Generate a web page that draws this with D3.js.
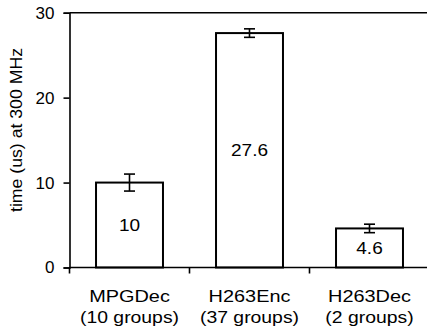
<!DOCTYPE html>
<html>
<head>
<meta charset="utf-8">
<script src="https://cdn.jsdelivr.net/npm/d3@7"></script>
<style>
  html, body { margin: 0; padding: 0; background: #fff; }
  svg { display: block; }
  text { font-family: "Liberation Sans", Arial, sans-serif; fill: #000; }
</style>
</head>
<body>
<div id="chart"></div>
<script>
const categories = ["MPGDec", "H263Enc", "H263Dec"];
const groupLabels = ["(10 groups)", "(37 groups)", "(2 groups)"];
const values = [10, 27.6, 4.6];
const valueLabels = ["10", "27.6", "4.6"];
const errors = [1.0, 0.5, 0.5];
const yTicks = [0, 10, 20, 30];
const yTitle = "time (us) at 300 MHz";

const W = 427, H = 335;
const mLeft = 69.5, mTop = 12.7, mBottom = 267.5, mRight = 429.5;

const svg = d3.select("#chart").append("svg")
  .attr("width", W).attr("height", H);

const x = d3.scaleBand().domain(categories).range([mLeft, mRight])
  .paddingInner(0.442).paddingOuter(0.221);
const y = d3.scaleLinear().domain([0, 30]).range([mBottom, mTop]);

// top border
svg.append("line")
  .attr("x1", mLeft).attr("x2", mRight + 5)
  .attr("y1", y(30)).attr("y2", y(30))
  .attr("stroke", "#000").attr("stroke-width", 1.6);

// bars
svg.selectAll("rect.bar").data(categories).join("rect")
  .attr("class", "bar")
  .attr("x", d => x(d)).attr("width", x.bandwidth())
  .attr("y", (d, i) => y(values[i]))
  .attr("height", (d, i) => y(0) - y(values[i]))
  .attr("fill", "#fff").attr("stroke", "#000").attr("stroke-width", 2);

// error bars
const cap = 5.5;
const eg = svg.append("g").attr("stroke", "#000").attr("stroke-width", 1.6);
categories.forEach((c, i) => {
  const cx = x(c) + x.bandwidth() / 2;
  const y1 = y(values[i] + errors[i]), y2 = y(values[i] - errors[i]);
  eg.append("line").attr("x1", cx).attr("x2", cx).attr("y1", y1).attr("y2", y2);
  eg.append("line").attr("x1", cx - cap).attr("x2", cx + cap).attr("y1", y1).attr("y2", y1);
  eg.append("line").attr("x1", cx - cap).attr("x2", cx + cap).attr("y1", y2).attr("y2", y2);
});

// value labels
svg.selectAll("text.val").data(categories).join("text")
  .attr("class", "val")
  .attr("text-anchor", "middle")
  .attr("font-size", 17)
  .attr("transform", (d, i) => {
    const cx = x(d) + x.bandwidth() / 2;
    const cy = (y(values[i]) + y(0)) / 2;
    return `translate(${cx},${cy + 6}) scale(1.12,1)`;
  })
  .text((d, i) => valueLabels[i]);

// y axis
const yAxis = svg.append("g")
  .attr("transform", `translate(${mLeft},0)`)
  .call(d3.axisLeft(y).tickValues(yTicks).tickSize(6).tickPadding(9).tickFormat(d3.format("d")));
yAxis.select(".domain").attr("stroke", "#000").attr("stroke-width", 1.6);
yAxis.selectAll(".tick line").attr("stroke", "#000").attr("stroke-width", 1.6);
yAxis.selectAll(".tick text").attr("font-size", 17)
  .attr("font-family", "Liberation Sans, Arial, sans-serif").attr("fill", "#000");

// x axis line
svg.append("line")
  .attr("x1", mLeft).attr("x2", mRight + 5)
  .attr("y1", y(0)).attr("y2", y(0))
  .attr("stroke", "#000").attr("stroke-width", 1.6);

// x ticks at band boundaries
const bounds = d3.range(categories.length + 1).map(i => x.range()[0] + i * x.step());
svg.selectAll("line.xt").data(bounds).join("line")
  .attr("class", "xt")
  .attr("x1", d => d).attr("x2", d => d)
  .attr("y1", y(0)).attr("y2", y(0) + 6)
  .attr("stroke", "#000").attr("stroke-width", 1.6);

// category labels
categories.forEach((c, i) => {
  const cx = x(c) + x.bandwidth() / 2;
  svg.append("text").attr("text-anchor", "middle").attr("font-size", 17)
    .attr("transform", `translate(${cx},302) scale(1.17,1)`).text(c);
  svg.append("text").attr("text-anchor", "middle").attr("font-size", 17)
    .attr("transform", `translate(${cx},323) scale(1.14,1)`).text(groupLabels[i]);
});

// y title
svg.append("text")
  .attr("text-anchor", "middle").attr("font-size", 17)
  .attr("transform", `translate(22,130) rotate(-90) scale(1.04,1)`)
  .text(yTitle);
</script>
</body>
</html>
